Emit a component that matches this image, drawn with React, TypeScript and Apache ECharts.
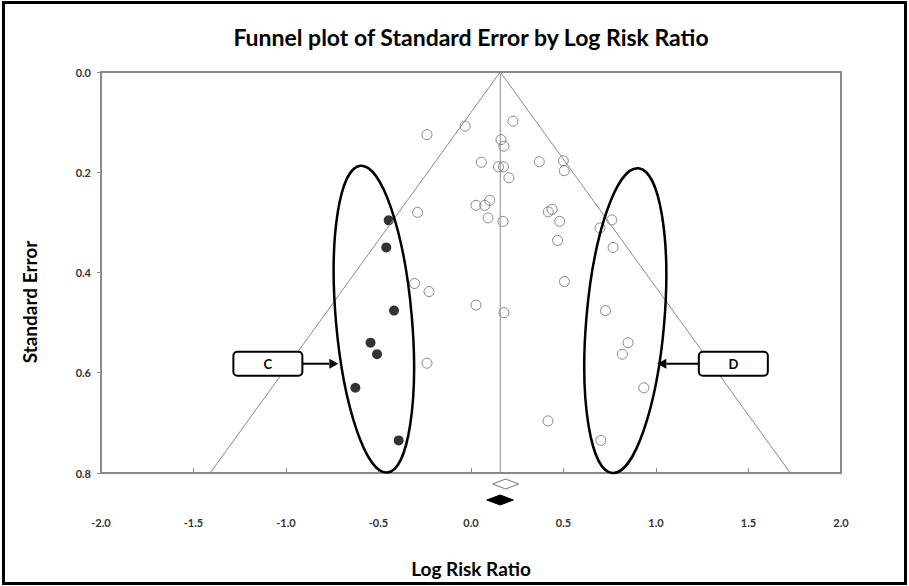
import React, { useEffect, useRef } from "react";
import * as echarts from "echarts";

// ---- data ----
const xTicks = [-2.0, -1.5, -1.0, -0.5, 0.0, 0.5, 1.0, 1.5, 2.0];
const yTicks = [0.0, 0.2, 0.4, 0.6, 0.8];

// observed studies (open circles)
const observedLogRR = [
  0.227, -0.032, -0.238, 0.162, 0.178, 0.056, 0.369, 0.499, 0.504, 0.148,
  0.175, 0.205, 0.101, 0.074, 0.027, 0.438, 0.418, 0.092, 0.173, -0.289,
  0.479, 0.468, 0.761, 0.697, 0.768, 0.505, -0.305, -0.227, 0.027, 0.178,
  -0.238, 0.727, 0.849, 0.818, 0.934, 0.416, 0.702,
];
const observedSE = [
  0.098, 0.108, 0.125, 0.135, 0.148, 0.18, 0.179, 0.177, 0.197, 0.189,
  0.189, 0.211, 0.256, 0.266, 0.266, 0.274, 0.279, 0.291, 0.298, 0.28,
  0.298, 0.336, 0.295, 0.311, 0.35, 0.418, 0.422, 0.438, 0.465, 0.48,
  0.581, 0.476, 0.54, 0.563, 0.63, 0.696, 0.735,
];

// imputed studies (filled circles)
const imputedLogRR = [-0.445, -0.458, -0.416, -0.543, -0.508, -0.625, -0.391];
const imputedSE = [0.296, 0.35, 0.476, 0.54, 0.563, 0.63, 0.735];

// pooled estimates [lower, estimate, upper]
const pooledObserved = [0.117, 0.187, 0.257];
const pooledAdjusted = [0.085, 0.158, 0.229];

const funnelCenter = 0.158;
const funnelMaxSE = 0.8;
const z = 1.96;

// annotation anchors in data units
const ellipseC = [-0.525, 0.493];
const ellipseD = [0.834, 0.496];
const boxC = [-1.098, 0.582];
const boxD = [1.418, 0.582];
const arrowTipC = -0.717;
const arrowTipD = 1.007;

const GREY = "#8a8a8a";
const FONT = "Lato, 'Open Sans', sans-serif";

export default function App() {
  const ref = useRef<HTMLDivElement>(null);

  useEffect(() => {
    document.body.style.margin = "0";
    const chart = echarts.init(ref.current!, null, { renderer: "svg" });

    const funnel = [
      [funnelCenter - z * funnelMaxSE, funnelMaxSE],
      [funnelCenter, 0],
      [funnelCenter + z * funnelMaxSE, funnelMaxSE],
    ];
    const meanLine = [
      [funnelCenter, 0],
      [funnelCenter, funnelMaxSE],
    ];

    const option: any = {
      animation: false,
      backgroundColor: "#fff",
      grid: {
        left: 101,
        right: 68,
        top: 72,
        bottom: 113,
        show: true,
        borderColor: GREY,
        borderWidth: 2,
        containLabel: false,
        outerBoundsMode: "none",
      },
      xAxis: {
        type: "value",
        min: xTicks[0],
        max: xTicks[xTicks.length - 1],
        interval: 0.5,
        axisLine: { show: true, onZero: false, lineStyle: { color: GREY, width: 2 } },
        axisTick: { show: true, inside: true, length: 5, lineStyle: { color: GREY } },
        splitLine: { show: false },
        axisLabel: {
          margin: 44,
          fontFamily: FONT,
          fontWeight: "bold",
          fontSize: 11,
          color: "#333",
          showMinLabel: true,
          showMaxLabel: true,
          formatter: (v: number) => v.toFixed(1),
        },
      },
      yAxis: {
        type: "value",
        inverse: true,
        min: yTicks[0],
        max: yTicks[yTicks.length - 1],
        interval: 0.2,
        axisLine: { show: true, onZero: false, lineStyle: { color: GREY, width: 2 } },
        axisTick: { show: true, inside: false, length: 4, lineStyle: { color: GREY } },
        splitLine: { show: false },
        axisLabel: {
          margin: 10,
          fontFamily: FONT,
          fontWeight: "bold",
          fontSize: 11,
          color: "#333",
          showMinLabel: true,
          showMaxLabel: true,
          formatter: (v: number) => v.toFixed(1),
        },
      },
      series: [
        {
          type: "line",
          data: funnel,
          symbol: "none",
          lineStyle: { color: GREY, width: 1 },
          silent: true,
        },
        {
          type: "line",
          data: meanLine,
          symbol: "none",
          lineStyle: { color: GREY, width: 1 },
          silent: true,
        },
        {
          type: "scatter",
          data: observedLogRR.map((v, i) => [v, observedSE[i]]),
          symbol: "circle",
          symbolSize: 10,
          itemStyle: { color: "rgba(0,0,0,0)", borderColor: "#6a6a6a", borderWidth: 1 },
        },
        {
          type: "scatter",
          data: imputedLogRR.map((v, i) => [v, imputedSE[i]]),
          symbol: "circle",
          symbolSize: 10,
          itemStyle: { color: "#000" },
        },
        {
          type: "custom",
          clip: false,
          data: [
            [...pooledObserved, 0],
            [...pooledAdjusted, 1],
          ],
          renderItem: (params: any, api: any) => {
            const row = api.value(3);
            const base = api.coord([api.value(1), funnelMaxSE]);
            const yc = base[1] + (row === 0 ? 11 : 27);
            const lo = api.coord([api.value(0), funnelMaxSE])[0];
            const hi = api.coord([api.value(2), funnelMaxSE])[0];
            const mid = base[0];
            const h = 5;
            return {
              type: "polygon",
              shape: {
                points: [
                  [lo, yc],
                  [mid, yc - h],
                  [hi, yc],
                  [mid, yc + h],
                ],
              },
              style:
                row === 0
                  ? { fill: "#fff", stroke: "#777", lineWidth: 1 }
                  : { fill: "#000", stroke: "#000", lineWidth: 1 },
            };
          },
        },
      ],
    };

    chart.setOption(option);

    const px = (p: number[]) => chart.convertToPixel({ gridIndex: 0 }, p) as number[];
    const eC = px(ellipseC);
    const eD = px(ellipseD);
    const bC = px(boxC);
    const bD = px(boxD);
    const tipC = px([arrowTipC, boxC[1]]);
    const tipD = px([arrowTipD, boxD[1]]);
    const bw = 69;
    const bh = 24;

    const box = (c: number[], label: string) => [
      {
        type: "rect",
        shape: { x: c[0] - bw / 2, y: c[1] - bh / 2, width: bw, height: bh, r: 4 },
        style: { fill: "#fff", stroke: "#000", lineWidth: 2 },
        z: 100,
      },
      {
        type: "text",
        x: c[0],
        y: c[1],
        style: {
          text: label,
          align: "center",
          verticalAlign: "middle",
          font: `bold 13px ${FONT}`,
          fill: "#000",
        },
        z: 101,
      },
    ];

    const arrow = (fromX: number, toX: number, y: number) => {
      const dir = toX > fromX ? 1 : -1;
      const headLen = 9;
      return [
        {
          type: "line",
          shape: { x1: fromX, y1: y, x2: toX - dir * headLen, y2: y },
          style: { stroke: "#000", lineWidth: 2 },
          z: 100,
        },
        {
          type: "polygon",
          shape: {
            points: [
              [toX, y],
              [toX - dir * headLen, y - 5],
              [toX - dir * headLen, y + 5],
            ],
          },
          style: { fill: "#000" },
          z: 100,
        },
      ];
    };

    chart.setOption({
      graphic: [
        {
          type: "rect",
          shape: { x: 3.5, y: 2.5, width: 902, height: 581 },
          style: { fill: "none", stroke: "#000", lineWidth: 3 },
          z: 200,
        },
        {
          type: "text",
          x: 471,
          y: 37,
          style: {
            text: "Funnel plot of Standard Error by Log Risk Ratio",
            align: "center",
            verticalAlign: "middle",
            font: `bold 23px ${FONT}`,
            fill: "#000",
          },
        },
        {
          type: "text",
          x: 471,
          y: 568,
          style: {
            text: "Log Risk Ratio",
            align: "center",
            verticalAlign: "middle",
            font: `bold 19px ${FONT}`,
            fill: "#000",
          },
        },
        {
          type: "text",
          x: 29,
          y: 302,
          rotation: Math.PI / 2,
          style: {
            text: "Standard Error",
            align: "center",
            verticalAlign: "middle",
            font: `bold 19px ${FONT}`,
            fill: "#000",
          },
        },
        {
          type: "ellipse",
          x: eC[0],
          y: eC[1],
          rotation: 0.087,
          shape: { cx: 0, cy: 0, rx: 38, ry: 154 },
          style: { fill: "none", stroke: "#000", lineWidth: 2.5 },
          z: 90,
        },
        {
          type: "ellipse",
          x: eD[0],
          y: eD[1],
          rotation: -0.085,
          shape: { cx: 0, cy: 0, rx: 39, ry: 153 },
          style: { fill: "none", stroke: "#000", lineWidth: 2.5 },
          z: 90,
        },
        ...box(bC, "C"),
        ...box(bD, "D"),
        ...arrow(bC[0] + bw / 2, tipC[0], tipC[1]),
        ...arrow(bD[0] - bw / 2, tipD[0], tipD[1]),
      ],
    });

    return () => chart.dispose();
  }, []);

  return (
    <div
      ref={ref}
      style={{ position: "fixed", left: 0, top: 0, width: 909, height: 586 }}
    />
  );
}
